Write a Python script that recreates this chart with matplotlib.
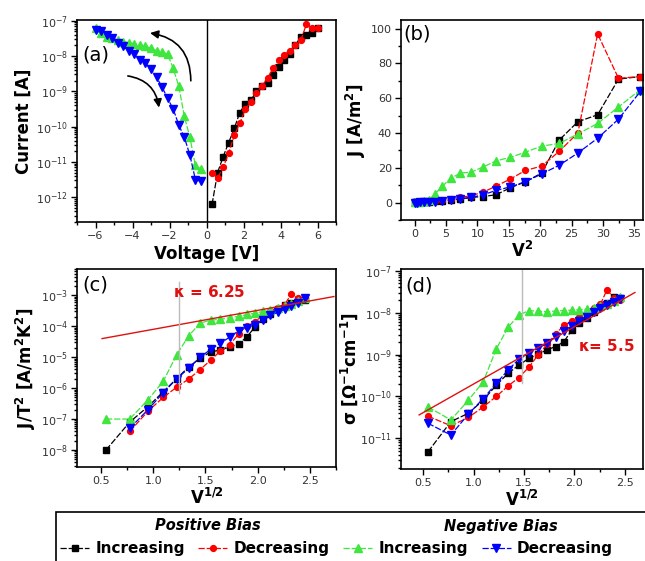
import numpy as np
import matplotlib
matplotlib.use("Agg")
import matplotlib.pyplot as plt
from matplotlib.patches import Rectangle
from matplotlib.ticker import LogLocator, NullFormatter, MultipleLocator

# === DATA ===
volt = np.array([0.3, 0.6, 0.9, 1.2, 1.5, 1.8, 2.1, 2.4, 2.7, 3.0,
                 3.3, 3.6, 3.9, 4.2, 4.5, 4.8, 5.1, 5.4, 5.7, 6.0])

# (a) log10 of current [A]
a_pos_inc = [-12.2, -11.3, -10.85, -10.45, -10.05, -9.6, -9.35, -9.25, -9.0, -8.85,
             -8.75, -8.55, -8.3, -8.1, -7.95, -7.7, -7.45, -7.4, -7.35, -7.2]
a_pos_dec = [-11.3, -11.45, -11.15, -10.75, -10.25, -9.9, -9.5, -9.3, -9.05, -8.85,
             -8.62, -8.35, -8.1, -7.96, -7.85, -7.7, -7.55, -7.1, -7.2, -7.2]
a_neg_inc = [-11.2, -11.1, -10.3, -9.7, -8.85, -8.35, -7.95, -7.88, -7.85, -7.78,
             -7.72, -7.7, -7.65, -7.62, -7.6, -7.55, -7.5, -7.45, -7.35, -7.2]
a_neg_dec = [-11.55, -11.5, -10.8, -10.3, -9.95, -9.5, -9.2, -8.88, -8.6, -8.38,
             -8.2, -8.1, -7.95, -7.85, -7.72, -7.62, -7.5, -7.4, -7.3, -7.25]

# (b) J [A/m^2]
b_pos_inc = [0.1, 0.2, 0.3, 0.4, 0.6, 0.8, 1.0, 1.5, 2.0, 3.0,
             3.5, 4.5, 8.5, 12, 17, 36, 46.5, 50.5, 71, 72.5]
b_pos_dec = [0.3, 0.4, 0.5, 0.6, 0.8, 1.0, 1.5, 2.2, 3.0, 4.0,
             6.0, 9.5, 13.5, 18.5, 21, 29.5, 40, 97, 71.5, 72.5]
b_neg_inc = [0.2, 0.3, 0.5, 0.8, 1.5, 5.0, 9.5, 14, 17, 17.5,
             20.5, 24, 26, 29, 32.5, 34, 39.5, 45.5, 55, 65]
b_neg_dec = [0.0, 0.0, 0.1, 0.2, 0.4, 0.6, 1.0, 1.5, 2.2, 3.0,
             4.5, 7.0, 9.0, 12, 16.5, 21.5, 28.5, 37, 48, 64]

# (c) log10 of J/T^2 (no red / blue point at the lowest voltage)
c_pos_inc = [-8.0, -7.1, -6.6, -6.12, -5.69, -5.31, -5.04, -4.83, -4.77, -4.67,
             -4.58, -4.34, -4.02, -3.78, -3.59, -3.43, -3.32, -3.25, -3.14, -3.14]
c_pos_dec = [np.nan, -7.4, -6.75, -6.3, -5.97, -5.7, -5.4, -5.1, -4.8, -4.6,
             -4.25, -4.0, -3.85, -3.65, -3.5, -3.4, -3.3, -2.95, -3.1, -3.1]
c_neg_inc = [-7.0, -7.0, -6.38, -5.78, -4.92, -4.3, -3.9, -3.8, -3.78, -3.72,
             -3.68, -3.62, -3.58, -3.52, -3.48, -3.42, -3.35, -3.28, -3.18, -3.08]
c_neg_dec = [np.nan, -7.3, -6.7, -6.15, -5.7, -5.35, -5.0, -4.75, -4.55, -4.35,
             -4.15, -4.05, -3.95, -3.8, -3.65, -3.55, -3.45, -3.35, -3.25, -3.1]

# (d) log10 of sigma [1/(Ohm cm)]
d_pos_inc = [-11.32, -10.6, -10.4, -10.09, -9.73, -9.45, -9.25, -9.09, -8.99, -8.88,
             -8.81, -8.69, -8.41, -8.25, -8.12, -7.98, -7.86, -7.78, -7.62, -7.66]
d_pos_dec = [-10.47, -10.7, -10.5, -10.25, -10.0, -9.75, -9.55, -9.3, -9.0, -8.75,
             -8.5, -8.3, -8.2, -8.1, -8.0, -7.9, -7.8, -7.45, -7.65, -7.7]
d_neg_inc = [-10.25, -10.56, -10.09, -9.65, -8.87, -8.35, -8.06, -7.95, -7.97, -7.98,
             -7.96, -7.95, -7.94, -7.93, -7.92, -7.9, -7.85, -7.8, -7.72, -7.62]
d_neg_dec = [-10.64, -10.92, -10.42, -10.05, -9.69, -9.37, -9.11, -8.96, -8.85, -8.73,
             -8.57, -8.45, -8.32, -8.21, -8.1, -7.98, -7.9, -7.82, -7.74, -7.68]

# fitted lines (x, log10 y) and guide lines
fit_c_x, fit_c_y = [0.51, 2.73], [-4.40, -3.04]
fit_d_x, fit_d_y = [0.46, 2.60], [-10.44, -7.52]
guide_c_x, guide_c_y = 1.25, [-2.57, -6.17]
guide_d_x, guide_d_y = 1.48, [-6.98, -9.69]

# === STYLE ===
SERIES = [
    dict(color="#000000", marker="s", ms=4.0, label="Increasing"),
    dict(color="#ff0000", marker="o", ms=4.2, label="Decreasing"),
    dict(color="#3ee63e", marker="^", ms=6.0, label="Increasing"),
    dict(color="#0000ff", marker="v", ms=6.0, label="Decreasing"),
]
LS = (0, (5, 1.5))
W, H = 645, 561


def px_axes(fig, left, top, right, bottom):
    return fig.add_axes([left / W, 1 - bottom / H, (right - left) / W, (bottom - top) / H])


def style_axes(ax, logy=False):
    for s in ax.spines.values():
        s.set_linewidth(1.2)
    ax.tick_params(which="both", direction="out", top=False, right=False,
                   labelsize=8, labelcolor="#333333", width=1.0, pad=2.5)
    ax.tick_params(which="major", length=4)
    ax.tick_params(which="minor", length=2)
    if logy:
        ax.set_yscale("log")
        ax.yaxis.set_major_locator(LogLocator(base=10, numticks=30))
        ax.yaxis.set_minor_locator(LogLocator(base=10, subs=np.arange(2, 10), numticks=30))
        ax.yaxis.set_minor_formatter(NullFormatter())


def draw(ax, x, y, st):
    return ax.plot(x, y, color=st["color"], marker=st["marker"], ms=st["ms"],
                   mec=st["color"], ls=LS, lw=0.9, label=st["label"])[0]


fig = plt.figure(figsize=(W / 100, H / 100), dpi=100)
lab = dict(fontsize=12, fontweight="bold")

# ---- (a) ----
ax = px_axes(fig, 77, 20, 336, 222)
style_axes(ax, logy=True)
draw(ax, volt, 10 ** np.array(a_pos_inc), SERIES[0])
draw(ax, volt, 10 ** np.array(a_pos_dec), SERIES[1])
draw(ax, -volt, 10 ** np.array(a_neg_inc), SERIES[2])
draw(ax, -volt, 10 ** np.array(a_neg_dec), SERIES[3])
ax.axvline(0, color="black", lw=1.0)
ax.set_xlim(-7, 7)
ax.set_ylim(10 ** -12.7, 10 ** -6.98)
ax.xaxis.set_major_locator(MultipleLocator(2))
ax.xaxis.set_minor_locator(MultipleLocator(1))
ax.set_xlabel("Voltage [V]", labelpad=3, **lab)
ax.set_ylabel("Current [A]", labelpad=2, **lab)
ax.text(0.02, 0.80, "(a)", transform=ax.transAxes, fontsize=14)
ax.annotate("", xy=(-3.2, 4.6e-8), xytext=(-0.85, 1.66e-9),
            arrowprops=dict(arrowstyle="-|>", color="black", lw=1.2,
                            connectionstyle="arc3,rad=0.45", mutation_scale=12))
ax.annotate("", xy=(-2.55, 2.9e-10), xytext=(-4.4, 2.8e-9),
            arrowprops=dict(arrowstyle="-|>", color="black", lw=1.2,
                            connectionstyle="arc3,rad=-0.4", mutation_scale=12))

# ---- (b) ----
ax = px_axes(fig, 401, 20, 643, 220)
style_axes(ax)
handles = []
for vals, st in zip([b_pos_inc, b_pos_dec, b_neg_inc, b_neg_dec], SERIES):
    handles.append(draw(ax, volt ** 2, vals, st))
ax.set_xlim(-2.2, 36.4)
ax.set_ylim(-10, 105)
ax.xaxis.set_major_locator(MultipleLocator(5))
ax.xaxis.set_minor_locator(MultipleLocator(2.5))
ax.yaxis.set_major_locator(MultipleLocator(20))
ax.yaxis.set_minor_locator(MultipleLocator(10))
ax.set_xlabel(r"V$^{\mathbf{2}}$", labelpad=1, **lab)
ax.set_ylabel(r"J [A/m$^{\mathbf{2}}$]", labelpad=2, **lab)
ax.text(0.01, 0.90, "(b)", transform=ax.transAxes, fontsize=14)

# ---- (c) ----
ax = px_axes(fig, 77, 269, 336, 467)
style_axes(ax, logy=True)
for vals, st in zip([c_pos_inc, c_pos_dec, c_neg_inc, c_neg_dec], SERIES):
    draw(ax, np.sqrt(volt), 10 ** np.array(vals), st)
ax.plot(fit_c_x, 10 ** np.array(fit_c_y), color="#e01010", lw=1.0)
ax.plot([guide_c_x] * 2, 10 ** np.array(guide_c_y), color="#bbbbbb", lw=1.0)
ax.text(1.19, 10 ** -2.89, r"$\mathbf{\kappa}$ = 6.25", color="#e01010", fontsize=11,
        fontweight="bold", va="center")
ax.set_xlim(0.27, 2.75)
ax.set_ylim(10 ** -8.55, 10 ** -2.15)
ax.xaxis.set_major_locator(MultipleLocator(0.5))
ax.xaxis.set_minor_locator(MultipleLocator(0.25))
ax.set_xlabel(r"V$^{\mathbf{1/2}}$", labelpad=1, **lab)
ax.set_ylabel(r"J/T$^{\mathbf{2}}$ [A/m$^{\mathbf{2}}$K$^{\mathbf{2}}$]", labelpad=2, **lab)
ax.text(0.02, 0.89, "(c)", transform=ax.transAxes, fontsize=14)

# ---- (d) ----
ax = px_axes(fig, 401, 269, 643, 469)
style_axes(ax, logy=True)
for vals, st in zip([d_pos_inc, d_pos_dec, d_neg_inc, d_neg_dec], SERIES):
    draw(ax, np.sqrt(volt), 10 ** np.array(vals), st)
ax.plot(fit_d_x, 10 ** np.array(fit_d_y), color="#e01010", lw=1.0)
ax.plot([guide_d_x] * 2, 10 ** np.array(guide_d_y), color="#bbbbbb", lw=1.0)
ax.text(2.04, 10 ** -8.8, r"$\mathbf{\kappa}$= 5.5", color="#e01010", fontsize=11,
        fontweight="bold", va="center")
ax.set_xlim(0.28, 2.68)
ax.set_ylim(10 ** -11.73, 10 ** -6.96)
ax.xaxis.set_major_locator(MultipleLocator(0.5))
ax.xaxis.set_minor_locator(MultipleLocator(0.25))
ax.set_xlabel(r"V$^{\mathbf{1/2}}$", labelpad=1, **lab)
ax.set_ylabel(r"$\mathbf{\sigma}$ [$\mathbf{\Omega}^{\mathbf{-1}}$cm$^{\mathbf{-1}}$]",
              labelpad=0, **lab)
ax.text(0.02, 0.89, "(d)", transform=ax.transAxes, fontsize=14)

# ---- legend box ----
fig.add_artist(Rectangle((56 / W, -0.05), 1.2, (561 - 512) / H + 0.05,
                         transform=fig.transFigure, facecolor="white",
                         edgecolor="black", lw=1.2, clip_on=False))
fig.text(208 / W, 1 - 526 / H, "Positive Bias", ha="center", va="center",
         fontsize=10.5, fontweight="bold", style="italic")
fig.text(501 / W, 1 - 526 / H, "Negative Bias", ha="center", va="center",
         fontsize=10.5, fontweight="bold", style="italic")
fig.legend(handles, [h.get_label() for h in handles], ncol=4, frameon=False,
           loc="center left", bbox_to_anchor=(60 / W, 1 - 549 / H),
           borderaxespad=0, borderpad=0, handlelength=1.9, handletextpad=0.4,
           columnspacing=0.9, prop=dict(size=11, weight="bold"))

fig.savefig("out.png", dpi=100)
